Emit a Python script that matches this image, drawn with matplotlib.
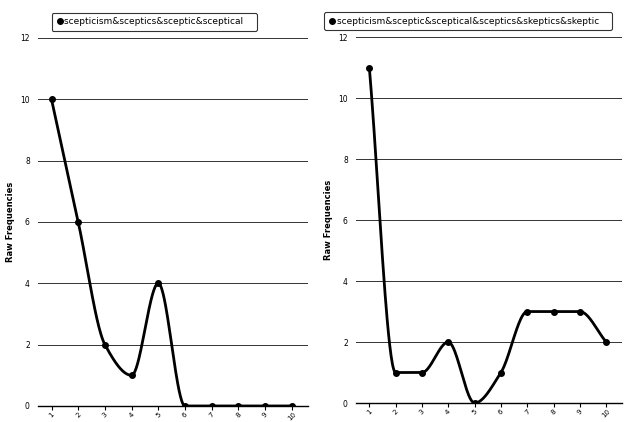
import numpy as np
import matplotlib
matplotlib.use("Agg")
import matplotlib.pyplot as plt
from matplotlib.lines import Line2D

# chart data
positions = [1, 2, 3, 4, 5, 6, 7, 8, 9, 10]
left_label = "scepticism&sceptics&sceptic&sceptical"
left_values = [10, 6, 2, 1, 4, 0, 0, 0, 0, 0]
right_label = "scepticism&sceptic&sceptical&sceptics&skeptics&skeptic"
right_values = [11, 1, 1, 2, 0, 1, 3, 3, 3, 2]
y_ticks = [0, 2, 4, 6, 8, 10, 12]


def monotone_curve(x, y, n=40):
    """Fritsch-Carlson monotone cubic through the points (smooth line look)."""
    x = np.asarray(x, float)
    y = np.asarray(y, float)
    h = np.diff(x)
    d = np.diff(y) / h
    m = np.zeros_like(y)
    m[0], m[-1] = d[0], d[-1]
    for i in range(1, len(y) - 1):
        if d[i - 1] * d[i] <= 0:
            m[i] = 0.0
        else:
            w1 = 2 * h[i] + h[i - 1]
            w2 = h[i] + 2 * h[i - 1]
            m[i] = (w1 + w2) / (w1 / d[i - 1] + w2 / d[i])
    xs, ys = [], []
    for i in range(len(x) - 1):
        t = np.linspace(0, 1, n, endpoint=(i == len(x) - 2))
        h00 = 2 * t**3 - 3 * t**2 + 1
        h10 = t**3 - 2 * t**2 + t
        h01 = -2 * t**3 + 3 * t**2
        h11 = t**3 - t**2
        xs.append(x[i] + t * h[i])
        ys.append(h00 * y[i] + h10 * h[i] * m[i] + h01 * y[i + 1] + h11 * h[i] * m[i + 1])
    return np.concatenate(xs), np.concatenate(ys)


def draw_panel(ax, values, label, legend_x):
    cx, cy = monotone_curve(positions, values)
    ax.plot(cx, cy, color="black", lw=2.0, solid_capstyle="round", zorder=3)
    ax.plot(positions, values, "o", color="black", ms=4, zorder=4)

    ax.set_xlim(0.5, 10.6)
    ax.set_ylim(0, 12)
    ax.set_yticks(y_ticks)
    ax.set_xticks(positions)
    ax.set_xticklabels([str(p) for p in positions], rotation=45, fontsize=5,
                       ha="center", va="top")
    ax.tick_params(axis="y", length=0, labelsize=5.5, pad=6)
    ax.tick_params(axis="x", length=3, width=0.8, pad=1)
    ax.grid(axis="y", color="#333333", lw=0.7)
    ax.set_axisbelow(True)
    for side in ["left", "right", "top"]:
        ax.spines[side].set_visible(False)
    ax.spines["bottom"].set_linewidth(1.0)
    ax.set_ylabel("Raw Frequencies", fontsize=6, fontweight="bold", labelpad=4)

    handle = Line2D([], [], marker="o", color="black", linestyle="none", ms=4)
    leg = ax.legend([handle], [label + "   "], loc="upper left",
                    bbox_to_anchor=(legend_x, 1.068), fontsize=6.5,
                    handletextpad=0.1, handlelength=0.8, borderpad=0.5,
                    fancybox=True, frameon=True, borderaxespad=0)
    leg.get_frame().set_edgecolor("black")
    leg.get_frame().set_linewidth(0.8)


fig = plt.figure(figsize=(6.36, 4.22), dpi=100)
ax1 = fig.add_axes([0.060, 0.038, 0.424, 0.872])
ax2 = fig.add_axes([0.560, 0.045, 0.418, 0.867])

draw_panel(ax1, left_values, left_label, 0.05)
draw_panel(ax2, right_values, right_label, -0.12)

fig.savefig("out.png", dpi=100)
